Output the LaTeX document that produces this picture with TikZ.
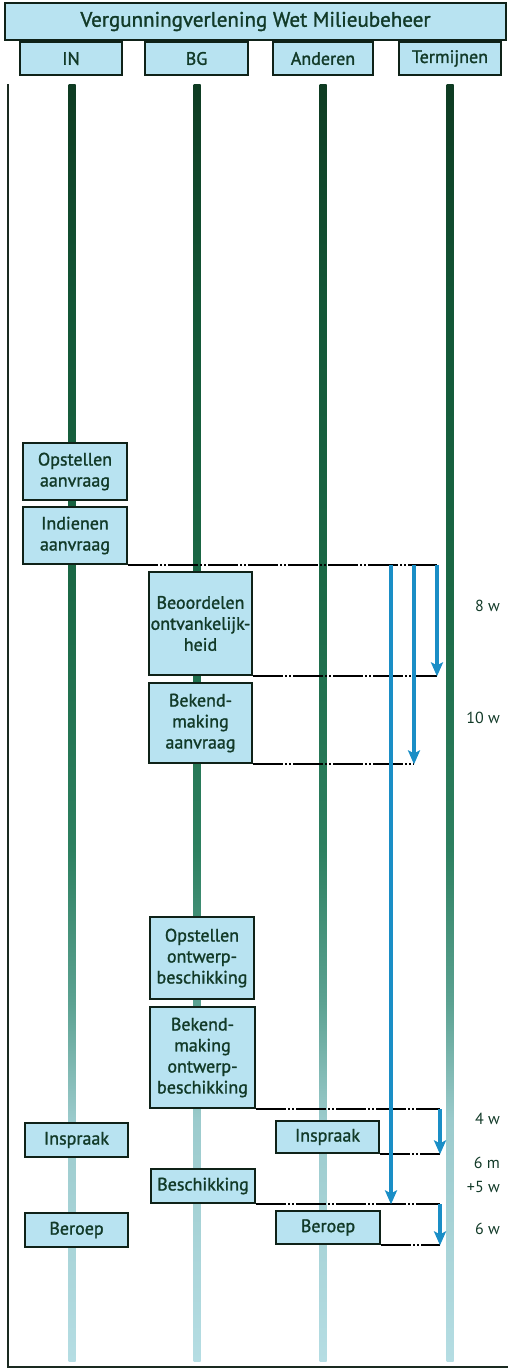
\documentclass[tikz,border=0pt]{standalone}
\usepackage{fontspec}
\setmainfont{PT Sans}
\newfontfamily\labelfont{PT Sans}[FakeBold=1.4]
\usetikzlibrary{arrows.meta}

\definecolor{boxfill}{HTML}{B8E3F1}
\definecolor{boxline}{HTML}{0F2218}
\definecolor{txtgreen}{HTML}{123A28}
\definecolor{flowblue}{HTML}{1A8EC6}
\definecolor{framecol}{HTML}{1A2A20}
\definecolor{laneA}{HTML}{0E3B22}
\definecolor{laneB}{HTML}{135737}
\definecolor{laneC}{HTML}{1B6946}
\definecolor{laneD}{HTML}{2D8060}
\definecolor{laneE}{HTML}{5CA292}
\definecolor{laneF}{HTML}{9CCBCD}
\definecolor{laneG}{HTML}{B5DDE3}

% lane colour: dark green at the top, fading to pale blue-green at the bottom
\pgfdeclareverticalshading{lanefade}{100bp}{%
  color(0bp)=(laneG);
  color(25bp)=(laneG);
  color(34.4bp)=(laneF);
  color(39bp)=(laneE);
  color(45bp)=(laneD);
  color(55bp)=(laneC);
  color(66bp)=(laneB);
  color(75bp)=(laneA);
  color(100bp)=(laneA)}

\tikzset{
  box/.style={draw=boxline, line width=2.7pt, fill=boxfill, text=txtgreen,
    align=center, inner sep=0pt, font=\labelfont\fontsize{18}{21}\selectfont},
  headbox/.style={box},
  link/.style={draw=black, line width=2pt,
    dash pattern=on 30pt off 2pt on 2pt off 2pt on 2pt off 2pt},
  flow/.style={draw=flowblue, line width=3.5pt,
    -{Stealth[length=14pt,width=12pt,inset=3pt]}},
  term/.style={anchor=east, text=txtgreen, inner sep=0pt,
    font=\fontsize{16}{19}\selectfont},
  lane/.style={shading=lanefade}
}

\begin{document}
\begin{tikzpicture}[x=1pt,y=-1pt]
\useasboundingbox (0,0) rectangle (508,1371);

% outer frame (left side and bottom)
\draw[framecol, line width=2pt] (8,84) -- (8,1367) -- (508,1367);

% swim lanes
\foreach \lx in {72,197,323,450}
  \shade[lane] (\lx-3.5,84) rectangle (\lx+3.5,1361);

% title and column headers
\node[headbox, minimum width=501pt, minimum height=37pt,
      font=\labelfont\fontsize{21}{24}\selectfont] (title) at (255.5,21.5)
      {Vergunningverlening Wet Milieubeheer};
\node[headbox, minimum width=102pt, minimum height=33pt] (hIN)  at (71,58.5)  {IN};
\node[headbox, minimum width=103pt, minimum height=33pt] (hBG)  at (196.5,58.5) {BG};
\node[headbox, minimum width=100pt, minimum height=33pt] (hAND) at (323,58.5) {Anderen};
\node[headbox, minimum width=102pt, minimum height=33pt] (hTER) at (450,58.5) {Termijnen};

% process steps
\node[box, minimum width=104pt, minimum height=57pt] (opst) at (75,471.5) {Opstellen\\aanvraag};
\node[box, minimum width=104pt, minimum height=57pt] (indi) at (75,535.5) {Indienen\\aanvraag};
\node[box, minimum width=103pt, minimum height=103pt] (beoo) at (200.5,623.5) {Beoordelen\\ontvankelijk-\\heid};
\node[box, minimum width=103pt, minimum height=80pt] (bek1) at (200.5,723) {Bekend-\\making\\aanvraag};
\node[box, minimum width=104pt, minimum height=82pt] (opow) at (202,958) {Opstellen\\ontwerp-\\beschikking};
\node[box, minimum width=105pt, minimum height=101pt] (bek2) at (202.5,1057.5) {Bekend-\\making\\ontwerp-\\beschikking};
\node[box, minimum width=103pt, minimum height=34pt] (insp1) at (76.5,1140) {Inspraak};
\node[box, minimum width=103pt, minimum height=32pt] (insp2) at (327.5,1137) {Inspraak};
\node[box, minimum width=104pt, minimum height=34pt] (besch) at (203,1186) {Beschikking};
\node[box, minimum width=103pt, minimum height=34pt] (ber1) at (76.5,1230) {Beroep};
\node[box, minimum width=104pt, minimum height=33pt] (ber2) at (328,1227.5) {Beroep};

% columns where the term arrows run
\coordinate (xa) at (437,0);
\coordinate (xb) at (414,0);
\coordinate (xc) at (391,0);
\coordinate (xd) at (440,0);

% ends of the time lines
\coordinate (c1) at (indi.south east -| xa);
\coordinate (c2) at (beoo.south east -| xa);
\coordinate (c3t) at (indi.south east -| xb);
\coordinate (c3) at (bek1.south east -| xb);
\coordinate (c9t) at (indi.south east -| xc);
\coordinate (c4) at (bek2.south east -| xd);
\coordinate (c5) at (insp2.south east -| xd);
\coordinate (c6) at (besch.south east -| xd);
\coordinate (c9) at (besch.south east -| xc);
\coordinate (c7) at (ber2.south east -| xd);

% dash-dot time lines
\draw[link] (indi.south east) -- (c1);
\draw[link] (beoo.south east) -- (c2);
\draw[link] (bek1.south east) -- (c3);
\draw[link] (bek2.south east) -- (c4);
\draw[link] (insp2.south east) -- (c5);
\draw[link] (besch.south east) -- (c6);
\draw[link] (ber2.south east) -- (c7);

% term arrows
\draw[flow] (c1) -- (c2);
\draw[flow] (c3t) -- (c3);
\draw[flow] (c9t) -- (c9);
\draw[flow] (c4) -- (c5);
\draw[flow] (c6) -- (c7);

% term labels
\node[term] (t1) at (500,606) {8 w};
\node[term] (t2) at (500,718) {10 w};
\node[term] (t3) at (500,1119) {4 w};
\node[term] (t4) at (500,1163) {6 m};
\node[term] (t5) at (500,1187) {+5 w};
\node[term] (t6) at (500,1229) {6 w};
\end{tikzpicture}
\end{document}
